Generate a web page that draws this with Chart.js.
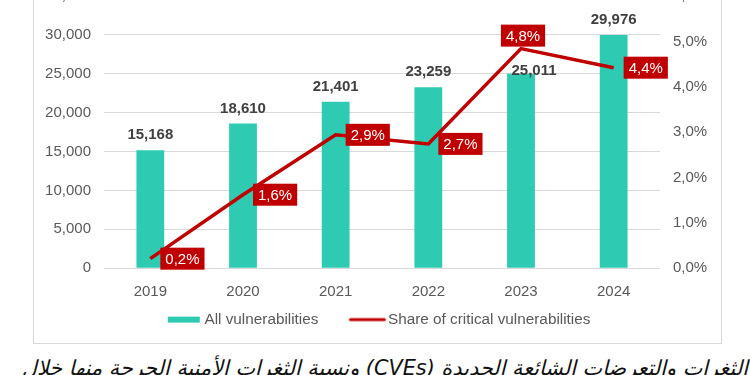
<!DOCTYPE html>
<html>
<head>
<meta charset="utf-8">
<script src="https://cdn.jsdelivr.net/npm/chart.js@4.4.1/dist/chart.umd.min.js"></script>
<style>
  html, body { margin: 0; padding: 0; background: #fff; }
  body { width: 750px; height: 375px; overflow: hidden; position: relative; }
  #frame { position: absolute; left: 33px; top: -50px; width: 687px; height: 392px; border: 1px solid #d9d9d9; }
  #box { position: absolute; left: 0; top: -40px; width: 750px; height: 383px; }
  #caption { position: absolute; right: 2px; top: 358px; white-space: nowrap; direction: rtl;
    font-family: "DejaVu Sans", sans-serif; font-style: italic; font-size: 20.8px; line-height: 1; color: #111; }
</style>
</head>
<body>
<div id="frame"></div>
<div id="box"><canvas id="chart"></canvas></div>
<div id="caption">الثغرات والتعرضات الشائعة الجديدة (CVEs) ونسبة الثغرات الأمنية الحرجة منها خلال</div>
<script>
var years = ['2019', '2020', '2021', '2022', '2023', '2024'];
var allVulns = [15168, 18610, 21401, 23259, 25011, 29976];
var criticalShare = [0.21, 1.62, 2.94, 2.74, 4.84, 4.42];
var leftTicks = [0, 5000, 10000, 15000, 20000, 25000, 30000, 35000];
var rightTicks = [0, 1, 2, 3, 4, 5, 6];
var shareLabelPos = ['right', 'right', 'right', 'right', 'above', 'right'];

var teal = '#2ecab1';
var red = '#c00000';
var FONT = '"Liberation Sans", Arial, sans-serif';

Chart.defaults.font.family = FONT;
Chart.defaults.font.size = 15;
Chart.defaults.color = '#595959';

function fmtPct(v) {
    return v.toFixed(1).replace('.', ',') + '%';
}

/* legend markers drawn on small canvases */
function marker(kind) {
    var c = document.createElement('canvas');
    c.width = 70; c.height = 10;
    var g = c.getContext('2d');
    if (kind === 'bar') {
        g.fillStyle = teal;
        g.fillRect(32, 2, 32, 6);
    } else {
        g.strokeStyle = red;
        g.lineWidth = 3;
        g.lineCap = 'round';
        g.beginPath();
        g.moveTo(31, 5); g.lineTo(65, 5);
        g.stroke();
    }
    return c;
}
var markers = [marker('bar'), marker('line')];

/* value labels for bars and the red boxes on the line */
var valueLabels = {
    id: 'valueLabels',
    afterDatasetsDraw: function(chart) {
        var ctx = chart.ctx;
        ctx.save();
        ctx.textAlign = 'center';
        ctx.textBaseline = 'middle';

        ctx.font = 'bold 15px ' + FONT;
        ctx.fillStyle = '#404040';
        chart.getDatasetMeta(0).data.forEach(function(bar, i) {
            var dx = 0, dy = -15;
            if (shareLabelPos[i] === 'above') { dx = 13; dy = -3; }
            ctx.fillText(allVulns[i].toLocaleString('en-US'), bar.x + dx, bar.y + dy);
        });

        ctx.font = '15px ' + FONT;
        chart.getDatasetMeta(1).data.forEach(function(pt, i) {
            var txt = fmtPct(criticalShare[i]);
            var w = ctx.measureText(txt).width + 10, h = 22;
            var bx, by;
            if (shareLabelPos[i] === 'above') {
                bx = pt.x + 2 - w / 2; by = pt.y - 2 - h;
            } else {
                bx = pt.x + 10; by = pt.y - h / 2;
            }
            ctx.fillStyle = red;
            ctx.fillRect(bx, by, w, h);
            ctx.fillStyle = '#fff';
            ctx.fillText(txt, bx + w / 2, by + h / 2 + 1);
        });
        ctx.restore();
    }
};

var ctxChart = document.getElementById('chart');
var chart = new Chart(ctxChart, {
    type: 'bar',
    data: {
        labels: years,
        datasets: [{
            label: 'All vulnerabilities',
            data: allVulns,
            backgroundColor: teal,
            barPercentage: 0.3,
            categoryPercentage: 1.0,
            yAxisID: 'y',
            order: 2
        }, {
            type: 'line',
            label: 'Share of critical vulnerabilities',
            data: criticalShare,
            borderColor: red,
            backgroundColor: red,
            borderWidth: 3.5,
            pointRadius: 0,
            tension: 0,
            yAxisID: 'y1',
            order: 1
        }]
    },
    options: {
        responsive: true,
        maintainAspectRatio: false,
        animation: false,
        layout: { padding: { left: 0, right: 14.8, top: 36, bottom: 5.75 } },
        plugins: {
            tooltip: { enabled: false },
            legend: {
                position: 'bottom',
                labels: {
                    usePointStyle: true,
                    pointStyleWidth: 52,
                    padding: 10,
                    color: '#595959',
                    font: { size: 15.3 },
                    sort: function(a, b) { return a.datasetIndex - b.datasetIndex; },
                    generateLabels: function(c) {
                        var items = Chart.defaults.plugins.legend.labels.generateLabels(c);
                        items.forEach(function(it) { it.pointStyle = markers[it.datasetIndex]; });
                        return items;
                    }
                }
            }
        },
        scales: {
            x: {
                grid: { display: false },
                border: { display: false },
                ticks: { padding: 7, color: '#595959' },
                afterFit: function(s) { s.height = 33.75; }
            },
            y: {
                position: 'left',
                min: 0,
                max: 35000,
                afterBuildTicks: function(s) { s.ticks = leftTicks.map(function(v) { return { value: v }; }); },
                ticks: {
                    padding: 13,
                    callback: function(v) { return Number(v).toLocaleString('en-US'); }
                },
                grid: { color: '#d9d9d9', drawTicks: false },
                border: { display: false },
                afterFit: function(s) { s.width = 104; }
            },
            y1: {
                position: 'right',
                min: 0,
                max: 6,
                afterBuildTicks: function(s) { s.ticks = rightTicks.map(function(v) { return { value: v }; }); },
                ticks: {
                    padding: 13,
                    callback: function(v) { return fmtPct(Number(v)); }
                },
                grid: { display: false, drawTicks: false },
                border: { display: false },
                afterFit: function(s) { s.width = 75.2; }
            }
        }
    },
    plugins: [valueLabels]
});
</script>
</body>
</html>
